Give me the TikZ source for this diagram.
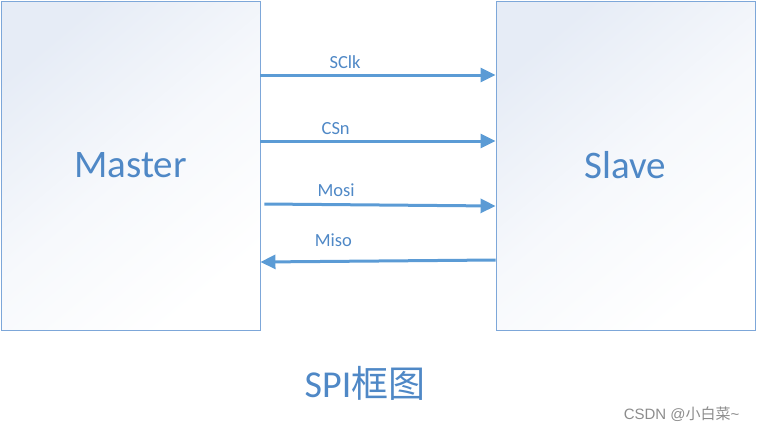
\documentclass[tikz,border=0pt]{standalone}
\usepackage{fontspec}
\setmainfont{Carlito}
\newfontfamily\cjk{Noto Sans CJK SC}
\newfontfamily\wmfont{Liberation Sans}
\usepackage{xcolor}
\usetikzlibrary{arrows.meta,positioning,calc}

\definecolor{boxline}{HTML}{7DA7D9}
\definecolor{boxtop}{HTML}{E6ECF6}
\definecolor{txtblue}{HTML}{4F88C6}
\definecolor{arrblue}{HTML}{5B9BD5}

\begin{document}
\begin{tikzpicture}[x=1pt,y=-1pt,
  block/.style={rectangle,draw=boxline,line width=0.9pt,
    top color=boxtop,bottom color=white,middle color=boxtop!35,shading angle=40,
    minimum width=259pt,minimum height=329pt,inner sep=0pt,
    text=txtblue,font=\fontsize{39}{44}\selectfont},
  sig/.style={draw=arrblue,line width=3pt,
    -{Triangle[length=15pt,width=14pt]}},
  siglabel/.style={text=txtblue,font=\fontsize{18.5}{22}\selectfont,inner sep=2pt}]
  \useasboundingbox (0,0) rectangle (757,429);
  \node[block] (master) at (130.5,165.5) {Master};
  \node[block] (slave) at (625.5,165.5) {Slave};
  % signal lines
  \draw[sig] (master.east |- 0,75) -- node[siglabel,pos=0.36,above=3pt] {SClk} (slave.west |- 0,75);
  \draw[sig] (master.east |- 0,141) -- node[siglabel,pos=0.32,above=3pt] {CSn} (slave.west |- 0,141);
  \draw[sig] ($(master.east |- 0,204)+(4,0)$) -- node[siglabel,pos=0.31,above=4pt] {Mosi} (slave.west |- 0,206);
  \draw[sig] (slave.west |- 0,260) -- node[siglabel,pos=0.69,above=11pt] {Miso} (master.east |- 0,262);
  \node[text=txtblue,font=\fontsize{38}{44}\selectfont] (title) at (365,383) {SPI{\cjk\fontsize{37}{44}\selectfont 框图}};
  \node[text=black!45,font=\wmfont\fontsize{15}{18}\selectfont,anchor=east] (mark) at (743,414) {CSDN @{\cjk 小白菜}\textasciitilde};
\end{tikzpicture}
\end{document}
